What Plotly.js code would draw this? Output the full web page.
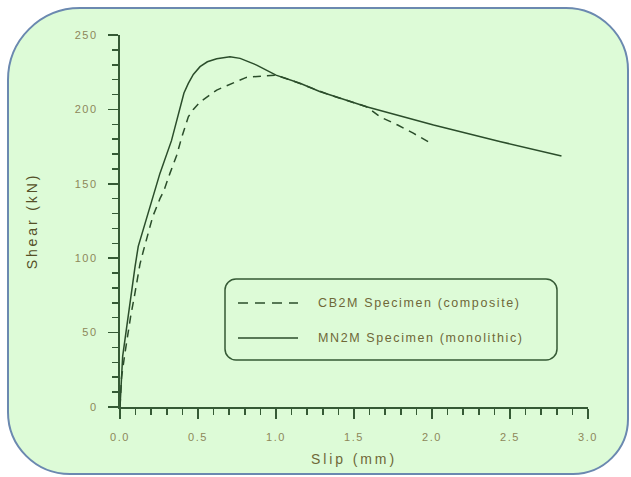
<!DOCTYPE html>
<html>
<head>
<meta charset="utf-8">
<script src="https://cdn.plot.ly/plotly-3.0.1.min.js"></script>
<style>
  html, body { margin: 0; padding: 0; background: #ffffff; }
  #chart { width: 631px; height: 477px; }
  text { letter-spacing: 1.6px; }
  #chart .g-xtitle text, #chart .g-ytitle text { letter-spacing: 2.9px; }
</style>
</head>
<body>
<div id="chart"></div>
<script>
// ---- data ----
const seriesNames = ["CB2M Specimen (composite)", "MN2M Specimen (monolithic)"];

const cbSlip  = [0, 0.01, 0.03, 0.05, 0.07, 0.09, 0.11, 0.128, 0.15, 0.18, 0.21, 0.256, 0.28, 0.32, 0.363, 0.395, 0.438, 0.47, 0.513, 0.62, 0.726, 0.81, 0.92, 1.0, 1.1, 1.2, 1.35, 1.5, 1.58, 1.667, 1.78, 1.88, 1.98];
const cbShear = [0, 20, 35, 50, 62, 73, 85, 96, 105, 117, 128, 140, 145, 157, 169, 181, 195, 200, 205, 213, 218, 221.5, 222.5, 223, 219.5, 215.5, 209.5, 204.5, 201.8, 195, 189.5, 184, 178];

const mnSlip  = [0, 0.005, 0.01, 0.017, 0.038, 0.053, 0.075, 0.096, 0.117, 0.15, 0.192, 0.256, 0.33, 0.385, 0.41, 0.438, 0.47, 0.513, 0.56, 0.62, 0.705, 0.77, 0.876, 1.0, 1.154, 1.28, 1.58, 2.01, 2.44, 2.83];
const mnShear = [0, 10, 25, 34, 50, 62, 80, 94, 108, 120, 134, 157, 179, 202, 211, 217.5, 223.5, 228.7, 232, 234, 235.4, 234.3, 229.8, 223, 217.6, 212, 201.8, 189.5, 178.3, 168.7];

const xTickVals = [0, 0.5, 1.0, 1.5, 2.0, 2.5, 3.0];
const xTickText = ["0.0", "0.5", "1.0", "1.5", "2.0", "2.5", "3.0"];
const yTickVals = [0, 50, 100, 150, 200, 250];
const yTickText = ["0", "50", "100", "150", "200", "250"];

// ---- styling / layout ----
const W = 631, H = 477;
const M = { l: 120, r: 43, t: 35, b: 70 };
const PW = W - M.l - M.r, PH = H - M.t - M.b;
const px = v => (v - M.l) / PW;          // pixel x -> paper x
const py = v => (H - M.b - v) / PH;      // pixel y -> paper y

function roundRect(x0, y0, x1, y1, r) {   // r = [tl, tr, br, bl]
  const k = 0.4477;
  const P = (x, y) => px(x).toFixed(5) + "," + py(y).toFixed(5);
  return "M" + P(x0 + r[0], y0) +
    " L" + P(x1 - r[1], y0) +
    " C" + P(x1 - r[1] * k, y0) + " " + P(x1, y0 + r[1] * k) + " " + P(x1, y0 + r[1]) +
    " L" + P(x1, y1 - r[2]) +
    " C" + P(x1, y1 - r[2] * k) + " " + P(x1 - r[2] * k, y1) + " " + P(x1 - r[2], y1) +
    " L" + P(x0 + r[3], y1) +
    " C" + P(x0 + r[3] * k, y1) + " " + P(x0, y1 - r[3] * k) + " " + P(x0, y1 - r[3]) +
    " L" + P(x0, y0 + r[0]) +
    " C" + P(x0, y0 + r[0] * k) + " " + P(x0 + r[0] * k, y0) + " " + P(x0 + r[0], y0) + " Z";
}

const lineColor = "#2b4d2b";
const axisColor = "#355a35";
const tickFontColor = "#8d875a";
const titleFontColor = "#6f6838";
const fontFamily = "'Liberation Sans', Arial, sans-serif";
const dashPattern = "8px,6px";

const traces = [
  { x: cbSlip, y: cbShear, name: seriesNames[0], mode: "lines",
    line: { color: lineColor, width: 1.5, dash: dashPattern }, showlegend: false, hoverinfo: "skip" },
  { x: mnSlip, y: mnShear, name: seriesNames[1], mode: "lines",
    line: { color: lineColor, width: 1.5 }, showlegend: false, hoverinfo: "skip" }
];

const legendY = [303, 338];
const shapes = [
  { type: "path", xref: "paper", yref: "paper", layer: "below",
    path: roundRect(8, 8, 628, 474, [72, 62, 55, 62]),
    fillcolor: "#ddfbd7", line: { color: "#6b89b0", width: 2 } },
  { type: "path", xref: "paper", yref: "paper", layer: "above",
    path: roundRect(225, 279, 557, 360, [11, 11, 11, 11]),
    fillcolor: "rgba(0,0,0,0)", line: { color: axisColor, width: 1.5 } },
  { type: "line", xref: "paper", yref: "paper", x0: px(238), x1: px(298), y0: py(legendY[0]), y1: py(legendY[0]),
    line: { color: lineColor, width: 1.5, dash: "10px,7px" } },
  { type: "line", xref: "paper", yref: "paper", x0: px(238), x1: px(298), y0: py(legendY[1]), y1: py(legendY[1]),
    line: { color: lineColor, width: 1.5 } }
];

const annotations = seriesNames.map((n, i) => ({
  xref: "paper", yref: "paper", x: px(316), y: py(legendY[i]),
  xanchor: "left", yanchor: "middle", showarrow: false, text: n,
  font: { family: fontFamily, size: 12.5, color: titleFontColor }
}));

const layout = {
  width: W, height: H,
  margin: M,
  paper_bgcolor: "#ffffff",
  plot_bgcolor: "rgba(0,0,0,0)",
  showlegend: false,
  font: { family: fontFamily, size: 11, color: tickFontColor },
  xaxis: {
    range: [0, 3], tickvals: xTickVals, ticktext: xTickText,
    showgrid: false, zeroline: false, showline: true, linecolor: axisColor, linewidth: 2,
    ticks: "outside", ticklen: 10, tickwidth: 1.5, tickcolor: axisColor,
    minor: { dtick: 0.1, ticks: "outside", ticklen: 6, tickwidth: 1.5, tickcolor: axisColor, showgrid: false },
    tickfont: { family: fontFamily, size: 11, color: tickFontColor },
    ticklabelstandoff: 9,
    title: { text: "Slip (mm)", font: { family: fontFamily, size: 14, color: titleFontColor }, standoff: 12 },
    fixedrange: true
  },
  yaxis: {
    range: [0, 250], tickvals: yTickVals, ticktext: yTickText,
    showgrid: false, zeroline: false, showline: true, linecolor: axisColor, linewidth: 2,
    ticks: "outside", ticklen: 10, tickwidth: 1.5, tickcolor: axisColor,
    minor: { dtick: 10, ticks: "outside", ticklen: 6, tickwidth: 1.5, tickcolor: axisColor, showgrid: false },
    tickfont: { family: fontFamily, size: 11, color: tickFontColor },
    ticklabelstandoff: 8,
    title: { text: "Shear (kN)", font: { family: fontFamily, size: 14, color: "#555028" }, standoff: 34 },
    fixedrange: true
  },
  shapes: shapes,
  annotations: annotations
};

Plotly.newPlot("chart", traces, layout, { displayModeBar: false, staticPlot: true });
</script>
</body>
</html>
